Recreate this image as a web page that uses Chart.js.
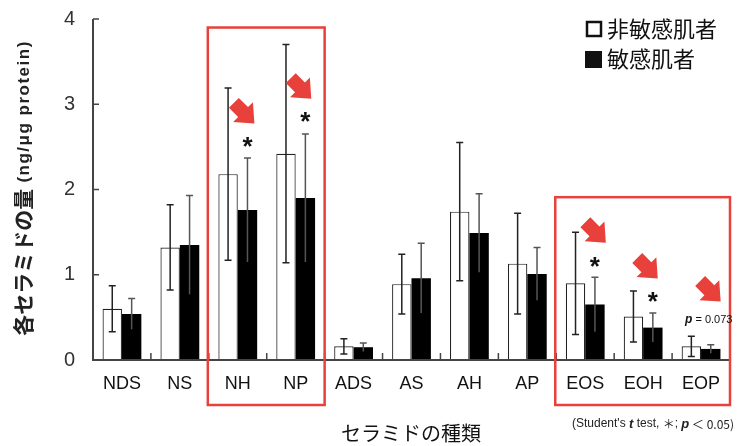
<!DOCTYPE html>
<html>
<head>
<meta charset="utf-8">
<script src="https://cdn.jsdelivr.net/npm/chart.js@4/dist/chart.umd.min.js"></script>
<style>
html, body { margin: 0; padding: 0; background: #fff; }
#wrap { width: 739px; height: 446px; }
</style>
</head>
<body>
<div id="wrap"><canvas id="myChart"></canvas></div>
<script>
let categories = ["NDS", "NS", "NH", "NP", "ADS", "AS", "AH", "AP", "EOS", "EOH", "EOP"];
let seriesNames = ["非敏感肌者", "敏感肌者"];
let meanNormal = [0.60, 1.32, 2.18, 2.42, 0.16, 0.89, 1.74, 1.13, 0.90, 0.51, 0.16];
let sdNormal = [0.27, 0.50, 1.01, 1.28, 0.09, 0.35, 0.81, 0.59, 0.60, 0.30, 0.12];
let meanSensitive = [0.54, 1.35, 1.76, 1.90, 0.15, 0.96, 1.49, 1.01, 0.65, 0.38, 0.13];
let sdSensitive = [0.18, 0.58, 0.61, 0.75, 0.05, 0.41, 0.46, 0.31, 0.32, 0.17, 0.05];
let yTicks = [0, 1, 2, 3, 4];

// significance marks: category index, value
let starMarks = [[2, 2.56], [3, 2.85], [8, 1.15], [9, 0.74]];
let arrowMarks = [[2, 2.90, 6], [3, 3.19, 5], [8, 1.50, 10], [9, 1.08, 4], [10, 0.81, 9]];
// highlighted groups: first index, last index, top value
let boxes = [[2, 3, 3.90], [8, 10, 1.91]];

const JP = '"Noto Sans CJK JP", "Noto Sans", sans-serif';
const LAT = '"Liberation Sans", Arial, sans-serif';
const RED = '#e8403a';

const extras = {
    id: 'extras',
    afterDatasetsDraw(chart) {
        const ctx = chart.ctx;
        const x = chart.scales.x, y = chart.scales.y;
        const area = chart.chartArea;
        const step = (area.right - area.left) / categories.length;

        // error bars
        const sets = [[meanNormal, sdNormal], [meanSensitive, sdSensitive]];
        ctx.save();
        ctx.lineWidth = 1.5;
        sets.forEach((s, di) => {
            chart.getDatasetMeta(di).data.forEach((bar, i) => {
                const top = y.getPixelForValue(s[0][i] + s[1][i]);
                const bot = y.getPixelForValue(Math.max(0, s[0][i] - s[1][i]));
                ctx.strokeStyle = di === 0 ? '#222' : '#555';
                ctx.beginPath();
                ctx.moveTo(bar.x, top); ctx.lineTo(bar.x, bot);
                ctx.moveTo(bar.x - 3.5, top); ctx.lineTo(bar.x + 3.5, top);
                if (di === 0) { ctx.moveTo(bar.x - 3.5, bot); ctx.lineTo(bar.x + 3.5, bot); }
                ctx.stroke();
            });
        });
        ctx.restore();

        // axes
        ctx.save();
        ctx.strokeStyle = '#444';
        ctx.lineWidth = 2;
        ctx.beginPath();
        ctx.moveTo(area.left, y.getPixelForValue(4)); ctx.lineTo(area.left, area.bottom);
        ctx.lineTo(area.right, area.bottom);
        ctx.stroke();
        ctx.lineWidth = 1.5;
        ctx.beginPath();
        yTicks.forEach(t => {
            const py = y.getPixelForValue(t);
            ctx.moveTo(area.left, py); ctx.lineTo(area.left + 6, py);
        });
        for (let i = 1; i < categories.length; i++) {
            const px = area.left + i * step;
            ctx.moveTo(px, area.bottom); ctx.lineTo(px, area.bottom - 7);
        }
        ctx.stroke();
        ctx.restore();

        // red boxes
        ctx.save();
        ctx.strokeStyle = RED;
        ctx.lineWidth = 2.5;
        boxes.forEach(b => {
            const l = area.left + b[0] * step - 1;
            const r = area.left + (b[1] + 1) * step;
            const t = y.getPixelForValue(b[2]);
            ctx.strokeRect(l, t, r - l, area.bottom + 45 - t);
        });
        ctx.restore();

        // arrows
        ctx.save();
        ctx.fillStyle = RED;
        arrowMarks.forEach(a => {
            const cx = x.getPixelForValue(a[0]) + a[2];
            const cy = y.getPixelForValue(a[1]);
            ctx.save();
            ctx.translate(cx, cy);
            ctx.rotate(Math.PI / 4);
            ctx.beginPath();
            ctx.moveTo(-14, -7); ctx.lineTo(-1, -7); ctx.lineTo(-1, -14);
            ctx.lineTo(15, 0); ctx.lineTo(-1, 14); ctx.lineTo(-1, 7); ctx.lineTo(-14, 7);
            ctx.closePath();
            ctx.fill();
            ctx.restore();
        });
        ctx.restore();

        // asterisks
        ctx.save();
        ctx.fillStyle = '#111';
        ctx.font = 'bold 26px ' + LAT;
        ctx.textAlign = 'center';
        ctx.textBaseline = 'middle';
        starMarks.forEach(s => {
            const bar = chart.getDatasetMeta(1).data[s[0]];
            ctx.fillText('*', bar.x, y.getPixelForValue(s[1]) + 6);
        });
        // p value
        const px = x.getPixelForValue(10) + 8 - 24;
        const py = y.getPixelForValue(0.47);
        ctx.textAlign = 'left';
        ctx.font = 'italic bold 12px ' + LAT;
        ctx.fillText('p', px, py);
        let w = ctx.measureText('p').width;
        ctx.font = '11px ' + LAT;
        ctx.fillText(' = 0.073', px + w, py);
        ctx.restore();

        // axis titles
        ctx.save();
        ctx.fillStyle = '#222';
        ctx.translate(23, 188);
        ctx.rotate(-Math.PI / 2);
        ctx.textBaseline = 'middle';
        const t1 = '各セラミドの量';
        const t2 = ' (ng/μg protein)';
        ctx.font = 'bold 21px ' + JP;
        const w1 = ctx.measureText(t1).width;
        ctx.font = 'bold 17px ' + LAT;
        ctx.letterSpacing = '1.5px';
        const w2 = ctx.measureText(t2).width;
        ctx.letterSpacing = '0px';
        let sx = -(w1 + w2) / 2;
        ctx.font = 'bold 21px ' + JP;
        ctx.fillText(t1, sx, 0);
        ctx.font = 'bold 17px ' + LAT;
        ctx.letterSpacing = '1.5px';
        ctx.fillText(t2, sx + w1, 1);
        ctx.letterSpacing = '0px';
        ctx.restore();

        ctx.save();
        ctx.fillStyle = '#111';
        ctx.font = '20px ' + JP;
        ctx.textAlign = 'center';
        ctx.textBaseline = 'middle';
        ctx.fillText('セラミドの種類', 411, 433);
        ctx.restore();

        // footnote
        ctx.save();
        ctx.fillStyle = '#222';
        ctx.textBaseline = 'middle';
        const parts = [['(Student\'s ', '12px ' + LAT], ['t', 'italic bold 13px ' + LAT], [' test, ', '12px ' + LAT],
            ['＊', '12px ' + JP], ['; ', '12px ' + LAT], ['p', 'italic bold 13px ' + LAT], [' ＜ 0.05)', '12px ' + JP]];
        let fx = 572;
        parts.forEach(p => {
            ctx.font = p[1];
            ctx.fillText(p[0], fx, 424);
            fx += ctx.measureText(p[0]).width;
        });
        ctx.restore();

        // legend
        ctx.save();
        ctx.font = '22px ' + JP;
        ctx.textBaseline = 'middle';
        ctx.fillStyle = '#111';
        seriesNames.forEach((name, i) => {
            const ly = 29 + i * 30;
            if (i === 0) {
                ctx.lineWidth = 2.5;
                ctx.strokeStyle = '#111';
                ctx.strokeRect(587, ly - 7, 14, 14);
            } else {
                ctx.fillRect(585, ly - 8, 17, 17);
            }
            ctx.fillText(name, 607, ly);
        });
        ctx.restore();
    }
};

let myChart = document.getElementById("myChart").getContext('2d');

let chart1 = new Chart(myChart, {
    type: 'bar',
    data: {
        labels: categories,
        datasets: [{
            label: seriesNames[0],
            data: meanNormal,
            backgroundColor: '#ffffff',
            borderColor: '#222',
            borderWidth: 1.2
        }, {
            label: seriesNames[1],
            data: meanSensitive,
            backgroundColor: '#000000',
            borderColor: '#000',
            borderWidth: 0
        }]
    },
    options: {
        responsive: true,
        maintainAspectRatio: false,
        animation: false,
        layout: { padding: { top: 19, right: 9, left: 0, bottom: 0 } },
        categoryPercentage: 0.67,
        barPercentage: 1.0,
        plugins: {
            legend: { display: false },
            tooltip: { enabled: false }
        },
        scales: {
            x: {
                grid: { display: false, drawTicks: false },
                border: { display: false },
                ticks: {
                    padding: 13,
                    color: '#111',
                    font: { family: LAT, size: 18 }
                },
                afterFit(scale) {
                    scale.height = 86;
                    scale.paddingLeft = 0; scale.paddingRight = 0;
                }
            },
            y: {
                min: 0,
                max: 4,
                afterBuildTicks(scale) { scale.ticks = yTicks.map(v => ({ value: v })); },
                grid: { display: false, drawTicks: false },
                border: { display: false },
                ticks: {
                    padding: 18,
                    color: '#333',
                    font: { family: LAT, size: 20 }
                },
                afterFit(scale) {
                    scale.width = 93;
                    scale.paddingTop = 0; scale.paddingBottom = 0;
                }
            }
        }
    },
    plugins: [extras]
});
</script>
</body>
</html>
